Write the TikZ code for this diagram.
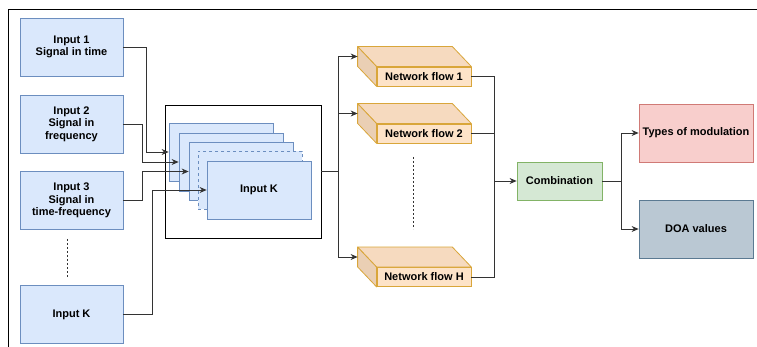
\documentclass[tikz,border=0pt]{standalone}
\usepackage{fontspec}
\setmainfont{Liberation Sans}
\usepackage{tikz}
\usepackage{xcolor}
\usetikzlibrary{positioning,calc,arrows.meta}

\definecolor{inblue}{HTML}{DAE8FC}
\definecolor{inline}{HTML}{6C8EBF}
\definecolor{flowfill}{HTML}{FDE3C8}
\definecolor{flowtop}{HTML}{F6DABF}
\definecolor{flowside}{HTML}{EACFB4}
\definecolor{flowline}{HTML}{D9A63A}
\definecolor{combfill}{HTML}{D5E8D4}
\definecolor{combline}{HTML}{82B366}
\definecolor{modfill}{HTML}{F8CECC}
\definecolor{modline}{HTML}{D07A76}
\definecolor{doafill}{HTML}{BAC8D3}
\definecolor{doaline}{HTML}{5B7A92}

\begin{document}
\begin{tikzpicture}[x=1pt,y=-1pt,
    every node/.style={font=\fontsize{11}{12.5}\selectfont\bfseries,align=center},
    inbox/.style={draw=inline,fill=inblue,line width=0.8pt,minimum width=103pt,minimum height=58pt},
    stackbox/.style={inbox,minimum width=104pt,minimum height=58pt},
    flowbox/.style={draw=flowline,fill=flowfill,line width=0.8pt,minimum width=94pt,minimum height=19pt,inner sep=0pt},
    outbox/.style={line width=0.8pt,minimum width=114pt,minimum height=58pt,inner sep=1pt},
    conn/.style={draw=black!80,line width=0.8pt},
    arr/.style={conn,-{Stealth[length=7pt,width=6pt]}},
    dots/.style={draw=black!80,line width=0.8pt,dash pattern=on 2pt off 2pt}]

    \useasboundingbox (0,0) rectangle (757,347);
    \draw[line width=0.8pt] (8,347) -- (8,9.5) -- (757,9.5);

    % inputs
    \node[inbox](in1) at (71.5,47) {Input 1\\Signal in time};
    \node[inbox](in2) at (71.5,124) {Input 2\\Signal in\\frequency};
    \node[inbox](in3) at (71.5,200.5) {Input 3\\Signal in\\time-frequency};
    \node[inbox](inK) at (71.5,314.5) {Input K};
    \coordinate (d1) at (67,239);
    \coordinate (d2) at (67,277);
    \draw[dots] (d1) -- (d2);

    % stack of inputs
    \node[draw,line width=0.8pt,minimum width=156pt,minimum height=133pt](frame) at (243,171.5) {};
    \node[stackbox](sa) at (221,152) {};
    \node[stackbox](sb) at (231,162) {};
    \node[stackbox](sc) at (241,171.5) {};
    \node[stackbox,dash pattern=on 3pt off 3pt](sd) at (250,180.5) {};
    \node[stackbox](se) at (259,190) {Input K};

    \draw[arr] (in1.east) -- ++(23,0) |- (sa.west);
    \draw[arr] (in2.east) -- ++(19,0) |- (sb.west);
    \draw[arr] (in3.east) -- ++(19,0) |- (sc.west);
    \draw[arr] (inK.east) -- ++(29,0) |- (se.west);

    % network flows
    \node[flowbox](f1) at (424,76.5) {Network flow 1};
    \node[flowbox](f2) at (424,133.5) {Network flow 2};
    \node[flowbox](fH) at (424,277) {Network flow H};
    \foreach \f in {f1,f2,fH}{
        \filldraw[draw=flowline,fill=flowtop,line width=0.8pt,line join=round]
            (\f.north west) -- ++(-19,-20) -- ($(\f.north east)+(-19,-20)$) -- (\f.north east) -- cycle;
        \filldraw[draw=flowline,fill=flowside,line width=0.8pt,line join=round]
            (\f.north west) -- ++(-19,-20) -- ($(\f.south west)+(-19,-20)$) -- (\f.south west) -- cycle;
        \coordinate (b\f) at ($(\f.west)+(-19,-20)$);
    }
    \coordinate (d3) at (413,157);
    \coordinate (d4) at (413,229);
    \draw[dots] (d3) -- (d4);

    \draw[conn] (frame.east) -- ++(17,0) coordinate (sp);
    \draw[arr] (sp) |- (bf1);
    \draw[arr] (sp) |- (bf2);
    \draw[arr] (sp) |- (bfH);

    % combination and outputs
    \node[draw=combline,fill=combfill,line width=0.8pt,minimum width=85pt,minimum height=38pt](comb) at (559.5,181) {Combination};
    \coordinate (jn) at (494,181);
    \draw[conn] (f1.east) -| (jn);
    \draw[conn] (f2.east) -| (jn);
    \draw[conn] (fH.east) -| (jn);
    \draw[arr] (jn) -- (comb.west);

    \node[outbox,draw=modline,fill=modfill](mod) at (696,133) {Types of modulation};
    \node[outbox,draw=doaline,fill=doafill](doa) at (696,229) {DOA values};
    \draw[arr] (comb.east) -- ++(19,0) |- (mod.west);
    \draw[arr] (comb.east) -- ++(19,0) |- (doa.west);
\end{tikzpicture}
\end{document}
